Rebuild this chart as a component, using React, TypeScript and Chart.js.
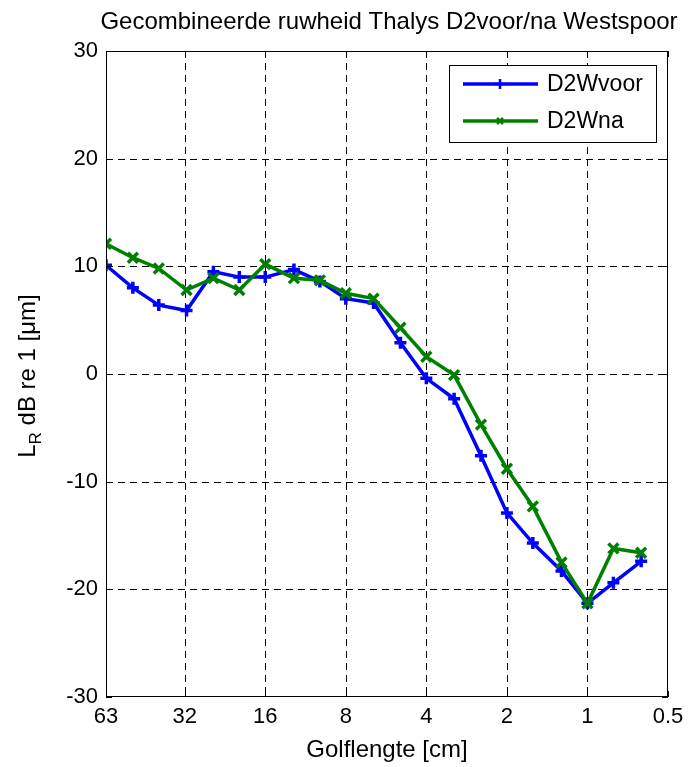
import React, { useEffect, useRef } from "react";
import { Chart, registerables } from "chart.js";

Chart.register(...registerables);

// Golflengte (cm), third-octave bands
const wavelengths = [63, 50, 40, 31.5, 25, 20, 16, 12.5, 10, 8, 6.3, 5, 4, 3.15, 2.5, 2, 1.6, 1.25, 1, 0.8, 0.63];
// L_R dB re 1 µm
const d2wVoor = [10.1, 8.0, 6.4, 5.9, 9.5, 9.0, 9.0, 9.7, 8.6, 7.0, 6.6, 2.9, -0.4, -2.3, -7.6, -12.9, -15.7, -18.3, -21.3, -19.4, -17.4];
const d2wNa = [12.1, 10.8, 9.8, 7.8, 8.9, 7.8, 10.2, 8.9, 8.7, 7.5, 7.0, 4.3, 1.6, -0.1, -4.7, -8.8, -12.3, -17.5, -21.3, -16.2, -16.6];
const xTicks = [63, 32, 16, 8, 4, 2, 1, 0.5];
const yTicks = [-30, -20, -10, 0, 10, 20, 30];
const seriesLabels = ["D2Wvoor", "D2Wna"];
const titleText = "Gecombineerde ruwheid Thalys D2voor/na Westspoor";
const xLabelText = "Golflengte [cm]";

const FONT = '"Liberation Sans", Arial, Helvetica, sans-serif';
const BLUE = "#0000ff";
const GREEN = "#008000";

function drawMarker(ctx: CanvasRenderingContext2D, style: string, x: number, y: number, r: number) {
  ctx.beginPath();
  if (style === "cross") {
    ctx.moveTo(x - r, y);
    ctx.lineTo(x + r, y);
    ctx.moveTo(x, y - r);
    ctx.lineTo(x, y + r);
  } else {
    ctx.moveTo(x - r, y - r);
    ctx.lineTo(x + r, y + r);
    ctx.moveTo(x - r, y + r);
    ctx.lineTo(x + r, y - r);
  }
  ctx.stroke();
}

const decorPlugin = {
  id: "decor",
  beforeDatasetsDraw(chart: any) {
    const ctx: CanvasRenderingContext2D = chart.ctx;
    const { left, right, top, bottom } = chart.chartArea;
    const xs = chart.scales.x;
    const ys = chart.scales.y;
    ctx.save();
    ctx.strokeStyle = "#000";
    ctx.lineWidth = 1;
    ctx.setLineDash([7, 5]);
    xTicks.forEach((v) => {
      const px = Math.round(xs.getPixelForValue(v)) + 0.5;
      if (px <= left + 1 || px >= right - 1) return;
      ctx.beginPath();
      ctx.moveTo(px, top);
      ctx.lineTo(px, bottom);
      ctx.stroke();
    });
    yTicks.forEach((v) => {
      const py = Math.round(ys.getPixelForValue(v)) + 0.5;
      if (py <= top + 1 || py >= bottom - 1) return;
      ctx.beginPath();
      ctx.moveTo(left, py);
      ctx.lineTo(right, py);
      ctx.stroke();
    });
    ctx.restore();
  },
  afterDraw(chart: any) {
    const ctx: CanvasRenderingContext2D = chart.ctx;
    const { left, right, top, bottom } = chart.chartArea;
    const xs = chart.scales.x;
    const ys = chart.scales.y;
    ctx.save();
    // frame
    ctx.strokeStyle = "#000";
    ctx.lineWidth = 1;
    ctx.setLineDash([]);
    ctx.strokeRect(Math.round(left) + 0.5, Math.round(top) + 0.5, Math.round(right - left) - 1, Math.round(bottom - top) - 1);
    // inner tick marks
    const tl = 6;
    xTicks.forEach((v) => {
      const px = Math.round(xs.getPixelForValue(v)) + 0.5;
      ctx.beginPath();
      ctx.moveTo(px, bottom);
      ctx.lineTo(px, bottom - tl);
      ctx.moveTo(px, top);
      ctx.lineTo(px, top + tl);
      ctx.stroke();
    });
    yTicks.forEach((v) => {
      const py = Math.round(ys.getPixelForValue(v)) + 0.5;
      ctx.beginPath();
      ctx.moveTo(left, py);
      ctx.lineTo(left + tl, py);
      ctx.moveTo(right, py);
      ctx.lineTo(right - tl, py);
      ctx.stroke();
    });

    // title
    ctx.fillStyle = "#000";
    ctx.font = `24px ${FONT}`;
    ctx.textAlign = "center";
    ctx.textBaseline = "middle";
    ctx.fillText(titleText, (left + right) / 2 + 2, 22);
    // x label
    ctx.fillText(xLabelText, (left + right) / 2, 750);

    // y label with subscript
    ctx.save();
    ctx.translate(27, 376);
    ctx.rotate(-Math.PI / 2);
    ctx.textAlign = "left";
    ctx.textBaseline = "alphabetic";
    const mainFont = `24px ${FONT}`;
    const subFont = `17px ${FONT}`;
    const rest = " dB re 1 [\u03bcm]";
    ctx.font = mainFont;
    const wL = ctx.measureText("L").width;
    const wRest = ctx.measureText(rest).width;
    ctx.font = subFont;
    const wR = ctx.measureText("R").width;
    const total = wL + wR + wRest;
    let x0 = -total / 2;
    const base = 8;
    ctx.font = mainFont;
    ctx.fillText("L", x0, base);
    x0 += wL;
    ctx.font = subFont;
    ctx.fillText("R", x0, base + 6);
    x0 += wR;
    ctx.font = mainFont;
    ctx.fillText(rest, x0, base);
    ctx.restore();

    // legend
    const lx = 449, ly = 65, lw = 208, lh = 78;
    ctx.fillStyle = "#fff";
    ctx.fillRect(lx, ly, lw, lh);
    ctx.strokeStyle = "#000";
    ctx.lineWidth = 1;
    ctx.strokeRect(lx + 0.5, ly + 0.5, lw - 1, lh - 1);
    const rows = [
      { label: seriesLabels[0], color: BLUE, style: "cross", y: 84 },
      { label: seriesLabels[1], color: GREEN, style: "crossRot", y: 121 },
    ];
    rows.forEach((r) => {
      ctx.strokeStyle = r.color;
      ctx.lineWidth = 3.5;
      ctx.beginPath();
      ctx.moveTo(463, r.y);
      ctx.lineTo(538, r.y);
      ctx.stroke();
      ctx.lineWidth = 2.5;
      drawMarker(ctx, r.style, 500, r.y, r.style === "cross" ? 5 : 3);
      ctx.fillStyle = "#000";
      ctx.font = `23px ${FONT}`;
      ctx.textAlign = "left";
      ctx.textBaseline = "middle";
      ctx.fillText(r.label, 547, r.y + 1);
    });
    ctx.restore();
  },
};

export default function App() {
  const ref = useRef<HTMLCanvasElement | null>(null);

  useEffect(() => {
    const canvas = ref.current;
    if (!canvas) return;
    const chart = new Chart(canvas, {
      type: "line",
      data: {
        datasets: [
          {
            label: seriesLabels[0],
            data: wavelengths.map((x, i) => ({ x, y: d2wVoor[i] })),
            borderColor: BLUE,
            backgroundColor: BLUE,
            borderWidth: 3.5,
            pointStyle: "cross",
            pointRadius: 6,
            pointBorderWidth: 3.5,
            pointBorderColor: BLUE,
            tension: 0,
            order: 1,
          },
          {
            label: seriesLabels[1],
            data: wavelengths.map((x, i) => ({ x, y: d2wNa[i] })),
            borderColor: GREEN,
            backgroundColor: GREEN,
            borderWidth: 3.5,
            pointStyle: "crossRot",
            pointRadius: 7,
            pointBorderWidth: 3.5,
            pointBorderColor: GREEN,
            tension: 0,
            order: 0,
          },
        ],
      },
      options: {
        animation: false,
        responsive: false,
        maintainAspectRatio: false,
        layout: { padding: { top: 51, right: 23, left: 0, bottom: 0 } },
        plugins: {
          legend: { display: false },
          title: { display: false },
          tooltip: { enabled: false },
        },
        scales: {
          x: {
            type: "logarithmic",
            reverse: true,
            min: 0.5,
            max: 63,
            afterBuildTicks: (s: any) => {
              s.ticks = xTicks.map((v) => ({ value: v }));
            },
            afterFit: (s: any) => {
              s.height = 70;
              s.paddingLeft = 0;
              s.paddingRight = 0;
            },
            ticks: {
              callback: (v: any) => String(v),
              color: "#000",
              font: { family: FONT, size: 22 },
              padding: 7,
              maxRotation: 0,
              autoSkip: false,
            },
            grid: { display: false, drawTicks: false },
            border: { display: false },
          },
          y: {
            type: "linear",
            min: -30,
            max: 30,
            afterBuildTicks: (s: any) => {
              s.ticks = yTicks.map((v) => ({ value: v }));
            },
            afterFit: (s: any) => {
              s.width = 106;
              s.paddingTop = 0;
              s.paddingBottom = 0;
            },
            ticks: {
              callback: (v: any) => String(v),
              color: "#000",
              font: { family: FONT, size: 22 },
              padding: 8,
            },
            grid: { display: false, drawTicks: false },
            border: { display: false },
          },
        },
      },
      plugins: [decorPlugin],
    } as any);
    return () => chart.destroy();
  }, []);

  return (
    <div style={{ position: "absolute", left: 0, top: 0, width: 691, height: 767, background: "#fff" }}>
      <canvas ref={ref} width={691} height={767} style={{ display: "block" }} />
    </div>
  );
}
